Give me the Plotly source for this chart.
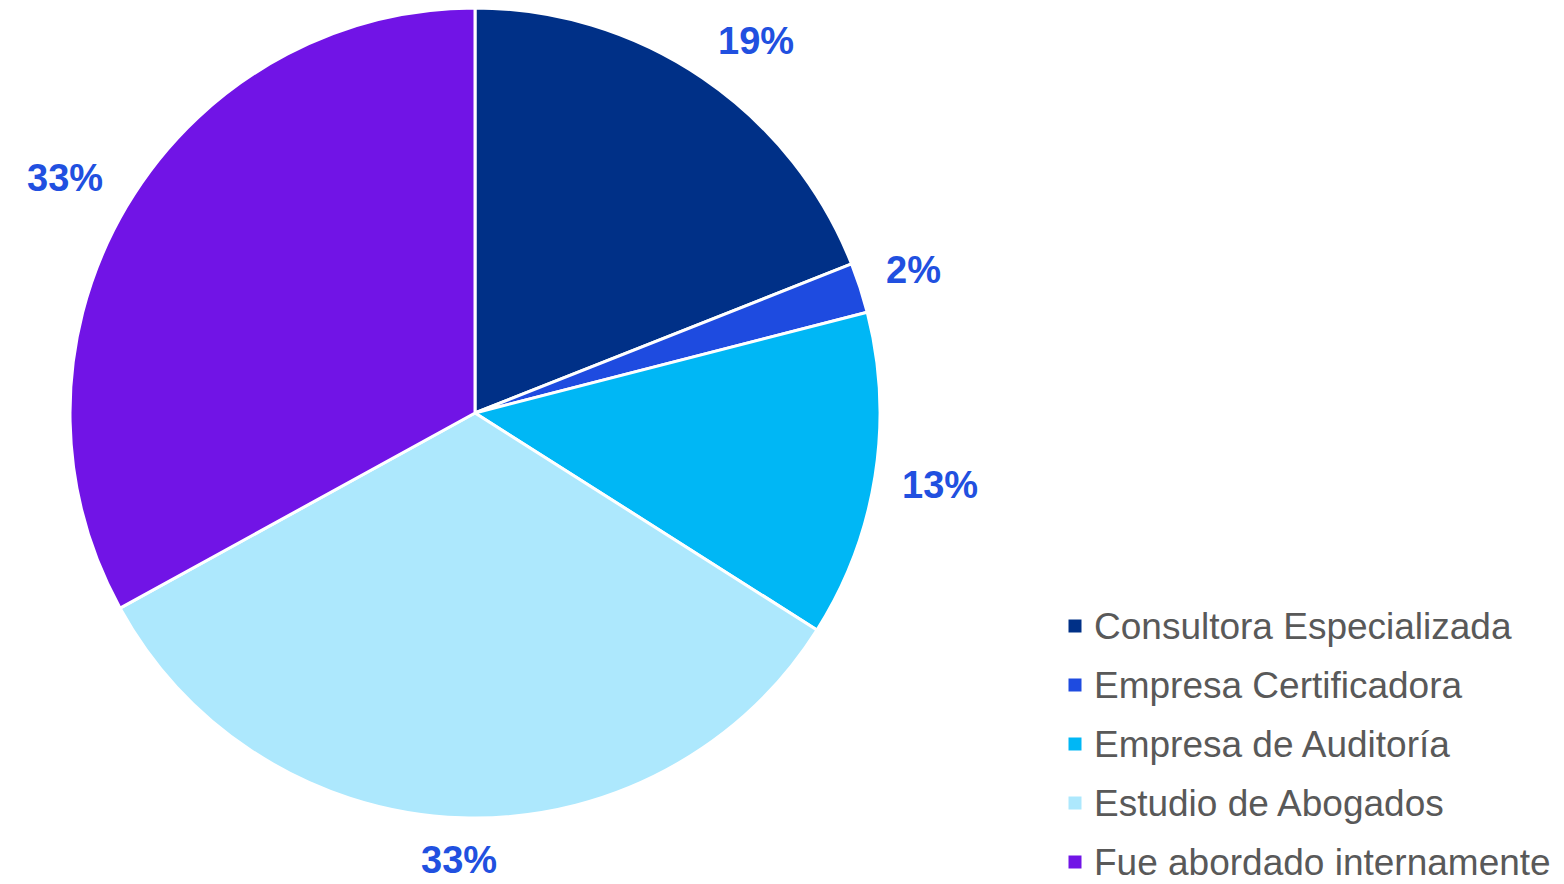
import numpy as np
import plotly.graph_objects as go

# Datos
categorias = ["Consultora Especializada", "Empresa Certificadora", "Empresa de Auditoría",
              "Estudio de Abogados", "Fue abordado internamente"]
valores = [19, 2, 13, 33, 33]
colores = ["#003087", "#1E4BE0", "#00B7F5", "#ADE8FD", "#7114E6"]

# la página añade 8px de margen al body
OFF = 8
W, H = 1564 - OFF, 884 - OFF


def px2paper(px, py):
    return (px - OFF) / W, 1 - (py - OFF) / H


# geometría del pie en píxeles de la ventana
cx, cy, R = 475, 413, 405
x0, y0 = px2paper(cx - R, cy + R)
x1, y1 = px2paper(cx + R, cy - R)
y1 = min(y1, 1.0)

fig = go.Figure()
fig.add_trace(go.Pie(
    labels=categorias,
    values=valores,
    marker=dict(colors=colores, line=dict(color="white", width=3)),
    sort=False,
    direction="clockwise",
    rotation=0,
    textinfo="none",
    hoverinfo="label+percent",
    showlegend=False,
    domain=dict(x=[x0, x1], y=[y0, y1]),
))

# etiquetas de porcentaje fuera del pie
total = sum(valores)
fs = 38
annotations = []
shapes = []
acum = 0
for v in valores:
    frac = v / total
    mid = (acum + frac / 2) * 2 * np.pi
    acum += frac
    txt = f"{round(frac * 100)}%"
    hw = ((len(txt) - 1) * 0.556 + 0.889) * fs / 2
    hh = fs * 0.4
    sx, sy = np.sin(mid), -np.cos(mid)
    d = R + 27
    px = cx + d * sx + hw * np.sign(sx) * min(1, abs(sx) * 2)
    py = cy + d * sy + hh * np.sign(sy) * min(1, abs(sy) * 2)
    ax, ay = px2paper(px, py)
    annotations.append(dict(
        x=ax, y=ay, xref="paper", yref="paper",
        text=f"<b>{txt}</b>", showarrow=False,
        font=dict(size=fs, color="#2150E0", family="Liberation Sans, Arial"),
        xanchor="center", yanchor="middle",
    ))

# leyenda dibujada a mano
leg_x, leg_y, leg_dy, sq = 1075, 626, 59.0, 13
for i, (cat, col) in enumerate(zip(categorias, colores)):
    yy = leg_y + i * leg_dy
    a0, b0 = px2paper(leg_x - sq / 2, yy + sq / 2)
    a1, b1 = px2paper(leg_x + sq / 2, yy - sq / 2)
    shapes.append(dict(type="rect", xref="paper", yref="paper",
                       x0=a0, x1=a1, y0=b0, y1=b1,
                       fillcolor=col, line=dict(width=0)))
    tx, ty = px2paper(leg_x + 17, yy)
    annotations.append(dict(
        x=tx, y=ty, xref="paper", yref="paper",
        text=cat, showarrow=False,
        font=dict(size=37, color="#595959", family="Liberation Sans, Arial"),
        xanchor="left", yanchor="middle",
    ))

fig.update_layout(
    width=W, height=H,
    margin=dict(l=0, r=0, t=0, b=0),
    paper_bgcolor="white",
    plot_bgcolor="white",
    annotations=annotations,
    shapes=shapes,
    showlegend=False,
)

fig.write_html("out.html")
